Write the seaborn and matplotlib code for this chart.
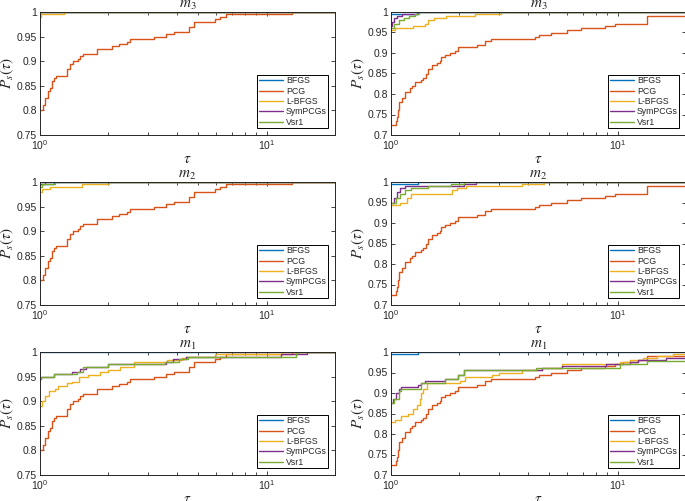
import matplotlib
matplotlib.use("Agg")
import numpy as np
import pandas as pd
import matplotlib.pyplot as plt
import seaborn as sns
from matplotlib.ticker import FuncFormatter, LogLocator, NullFormatter, FixedLocator

sns.set_style("ticks")
plt.rcParams["font.family"] = ["Liberation Sans", "DejaVu Sans"]
plt.rcParams["mathtext.fontset"] = "stix"
plt.rcParams["xtick.direction"] = "in"
plt.rcParams["ytick.direction"] = "in"

solvers = ["BFGS", "PCG", "L-BFGS", "SymPCGs", "Vsr1"]
colors = ["#0072BD", "#D95319", "#EDB120", "#7E2F8E", "#77AC30"]
TAU_MAX = 20

# ---- left column ----
pcg_l_t = [1.00, 1.03, 1.05, 1.08, 1.09, 1.11, 1.13, 1.15, 1.18, 1.32, 1.35, 1.40, 1.47, 1.50,
           1.55, 1.78, 2.07, 2.22, 2.42, 2.50, 3.18, 3.58, 3.90, 4.56, 4.77, 5.89, 6.20, 6.64, 12.9]
pcg_l_p = [0.800, 0.810, 0.825, 0.830, 0.840, 0.845, 0.860, 0.865, 0.870, 0.885, 0.895, 0.900, 0.905, 0.910,
           0.915, 0.925, 0.930, 0.935, 0.940, 0.945, 0.950, 0.955, 0.960, 0.970, 0.980, 0.985, 0.990, 0.995, 1.000]

ones_t = [1.00]
ones_p = [1.00]

l_m3_lbfgs_t = [1.00, 1.01, 1.28]
l_m3_lbfgs_p = [0.990, 0.995, 1.000]

l_m2_bfgs_t = [1.00, 1.15]
l_m2_bfgs_p = [0.995, 1.000]
l_m2_lbfgs_t = [1.00, 1.02, 1.11, 1.53, 2.01]
l_m2_lbfgs_p = [0.980, 0.985, 0.990, 0.995, 1.000]
l_m2_sym_t = [1.00, 1.05]
l_m2_sym_p = [0.995, 1.000]
l_m2_vsr_t = [1.00, 1.02, 1.16]
l_m2_vsr_p = [0.990, 0.995, 1.000]

l_m1_lbfgs_t = [1.00, 1.02, 1.05, 1.10, 1.16, 1.20, 1.31, 1.38, 1.48, 1.63, 1.84, 2.00, 2.26, 2.59,
                3.64, 4.25, 4.40, 5.89, 11.7]
l_m1_lbfgs_p = [0.890, 0.900, 0.910, 0.920, 0.925, 0.930, 0.937, 0.940, 0.950, 0.953, 0.960, 0.963, 0.970, 0.980,
                0.983, 0.987, 0.990, 0.995, 1.000]
l_m1_sym_t = [1.00, 1.01, 1.15, 1.38, 1.50, 1.60, 2.00, 3.60, 3.85, 4.40, 11.5, 15.0]
l_m1_sym_p = [0.945, 0.950, 0.955, 0.960, 0.965, 0.970, 0.975, 0.980, 0.985, 0.990, 0.995, 1.000]
l_m1_vsr_t = [1.00, 1.01, 1.15, 1.45, 1.55, 2.00, 3.55, 4.10, 4.50, 13.5]
l_m1_vsr_p = [0.945, 0.950, 0.955, 0.960, 0.970, 0.975, 0.980, 0.985, 0.990, 1.000]

# ---- right column ----
pcg_r_t = [1.00, 1.05, 1.06, 1.07, 1.09, 1.12, 1.15, 1.21, 1.24, 1.27, 1.35, 1.39, 1.42, 1.46, 1.51,
           1.60, 1.65, 1.67, 1.73, 1.82, 1.92, 1.98, 2.40, 2.60, 2.75, 4.30, 4.50, 5.10, 6.00, 6.90,
           8.80, 9.70, 13.5]
pcg_r_p = [0.725, 0.735, 0.745, 0.760, 0.780, 0.790, 0.805, 0.815, 0.820, 0.830, 0.835, 0.840, 0.850, 0.860, 0.870,
           0.875, 0.880, 0.890, 0.895, 0.900, 0.905, 0.915, 0.920, 0.930, 0.935, 0.940, 0.945, 0.950, 0.955, 0.960,
           0.965, 0.970, 0.990]
pcg_r_m1_t = pcg_r_t[:-1] + [10.6, 12.3, 13.4]
pcg_r_m1_p = pcg_r_p[:-1] + [0.975, 0.980, 0.990]

r_bfgs_t = [1.00, 1.32]
r_bfgs_p = [0.995, 1.000]

r_m3_lbfgs_t = [1.00, 1.04, 1.25, 1.41, 1.46, 1.55, 1.75, 2.35, 3.05]
r_m3_lbfgs_p = [0.955, 0.960, 0.965, 0.970, 0.980, 0.985, 0.990, 0.995, 1.000]
r_m3_sym_t = [1.00, 1.01, 1.03, 1.06, 1.12, 1.30]
r_m3_sym_p = [0.965, 0.975, 0.985, 0.990, 0.995, 1.000]
r_m3_vsr_t = [1.00, 1.03, 1.08, 1.14, 1.20, 1.28, 1.33]
r_m3_vsr_p = [0.960, 0.970, 0.980, 0.985, 0.990, 0.995, 1.000]

r_m2_lbfgs_t = [1.00, 1.10, 1.18, 1.22, 1.85, 1.96, 2.14, 3.80, 4.75]
r_m2_lbfgs_p = [0.945, 0.950, 0.960, 0.970, 0.980, 0.985, 0.990, 0.995, 1.000]
r_m2_sym_t = [1.00, 1.03, 1.06, 1.10, 1.15, 2.10, 2.37]
r_m2_sym_p = [0.950, 0.960, 0.975, 0.985, 0.990, 0.995, 1.000]
r_m2_vsr_t = [1.00, 1.05, 1.10, 1.15, 1.22, 1.45, 1.83, 2.10]
r_m2_vsr_p = [0.950, 0.960, 0.970, 0.980, 0.985, 0.990, 0.995, 1.000]

r_m1_lbfgs_t = [1.00, 1.04, 1.11, 1.19, 1.25, 1.30, 1.34, 1.36, 1.39, 1.44, 2.02, 2.12, 2.79, 3.00,
                3.80, 4.65, 5.70, 10.2, 11.3, 12.9, 14.9, 17.6]
r_m1_lbfgs_p = [0.830, 0.835, 0.845, 0.850, 0.860, 0.870, 0.885, 0.900, 0.910, 0.925, 0.930, 0.940, 0.945, 0.950,
                0.955, 0.960, 0.970, 0.975, 0.980, 0.985, 0.990, 0.995]
r_m1_sym_t = [1.00, 1.02, 1.05, 1.09, 1.11, 1.32, 1.36, 1.41, 1.73, 1.98, 2.09, 4.65, 5.70, 8.90,
              11.3, 12.3, 16.4]
r_m1_sym_p = [0.875, 0.885, 0.900, 0.910, 0.915, 0.920, 0.925, 0.930, 0.935, 0.945, 0.955, 0.960, 0.965, 0.970,
              0.975, 0.980, 0.985]
r_m1_vsr_t = [1.00, 1.03, 1.09, 1.11, 1.36, 1.73, 1.98, 2.09, 4.35, 10.2, 13.4]
r_m1_vsr_p = [0.875, 0.885, 0.905, 0.910, 0.925, 0.935, 0.945, 0.955, 0.960, 0.970, 0.978]

panels = [
    ("$m_3$", 0, 0, [(ones_t, ones_p), (pcg_l_t, pcg_l_p), (l_m3_lbfgs_t, l_m3_lbfgs_p), (ones_t, ones_p), (ones_t, ones_p)]),
    ("$m_3$", 0, 1, [(r_bfgs_t, r_bfgs_p), (pcg_r_t, pcg_r_p), (r_m3_lbfgs_t, r_m3_lbfgs_p), (r_m3_sym_t, r_m3_sym_p), (r_m3_vsr_t, r_m3_vsr_p)]),
    ("$m_2$", 1, 0, [(l_m2_bfgs_t, l_m2_bfgs_p), (pcg_l_t, pcg_l_p), (l_m2_lbfgs_t, l_m2_lbfgs_p), (l_m2_sym_t, l_m2_sym_p), (l_m2_vsr_t, l_m2_vsr_p)]),
    ("$m_2$", 1, 1, [(r_bfgs_t, r_bfgs_p), (pcg_r_t, pcg_r_p), (r_m2_lbfgs_t, r_m2_lbfgs_p), (r_m2_sym_t, r_m2_sym_p), (r_m2_vsr_t, r_m2_vsr_p)]),
    ("$m_1$", 2, 0, [(ones_t, ones_p), (pcg_l_t, pcg_l_p), (l_m1_lbfgs_t, l_m1_lbfgs_p), (l_m1_sym_t, l_m1_sym_p), (l_m1_vsr_t, l_m1_vsr_p)]),
    ("$m_1$", 2, 1, [(r_bfgs_t, r_bfgs_p), (pcg_r_m1_t, pcg_r_m1_p), (r_m1_lbfgs_t, r_m1_lbfgs_p), (r_m1_sym_t, r_m1_sym_p), (r_m1_vsr_t, r_m1_vsr_p)]),
]

fig = plt.figure(figsize=(6.85, 5.01), dpi=100)
col_x = [40 / 685, 391 / 685]
row_bottom = [1 - 135 / 501, 1 - 305 / 501, 1 - 475 / 501]
ax_w = 295 / 685
ax_h = 123 / 501

for title, r, c, series in panels:
    ax = fig.add_axes([col_x[c], row_bottom[r], ax_w, ax_h])
    frames = []
    for name, (t, p) in zip(solvers, series):
        frames.append(pd.DataFrame({"tau": list(t) + [TAU_MAX], "p": list(p) + [p[-1]], "solver": name}))
    df = pd.concat(frames, ignore_index=True)
    sns.lineplot(data=df, x="tau", y="p", hue="solver", hue_order=solvers, palette=colors,
                 drawstyle="steps-post", estimator=None, sort=False, lw=1.0, legend=False, ax=ax)
    ax.set_xscale("log")
    ax.set_xlim(1, TAU_MAX)
    ymin = 0.75 if c == 0 else 0.7
    ax.set_ylim(ymin, 1.0)
    ax.yaxis.set_major_locator(FixedLocator(np.arange(ymin, 1.001, 0.05)))
    ax.yaxis.set_major_formatter(FuncFormatter(lambda v, pos: "%g" % round(v, 2)))
    ax.xaxis.set_major_locator(LogLocator(base=10))
    ax.xaxis.set_minor_locator(LogLocator(base=10, subs=np.arange(2, 10)))
    ax.xaxis.set_minor_formatter(NullFormatter())
    ax.tick_params(which="both", top=True, right=True, labelsize=7.5, width=0.6, colors="#262626", pad=2)
    ax.tick_params(which="major", length=3)
    ax.tick_params(which="minor", length=2)
    for s in ax.spines.values():
        s.set_linewidth(0.7)
        s.set_color("#262626")
    ax.set_title(title, fontsize=11, pad=0.5)
    ax.set_xlabel(r"$\tau$", fontsize=11, labelpad=0)
    ax.set_ylabel(r"$P_s(\tau)$", fontsize=11, labelpad=0.5)
    leg = ax.legend(ax.get_lines(), solvers, loc="lower right", fontsize=6.3, frameon=True,
                    fancybox=False, edgecolor="black", framealpha=1, handlelength=2.8,
                    borderpad=0.2, labelspacing=0.15, handletextpad=0.3, borderaxespad=0.75)
    leg.get_frame().set_linewidth(0.7)

fig.savefig("out.png", dpi=100)
